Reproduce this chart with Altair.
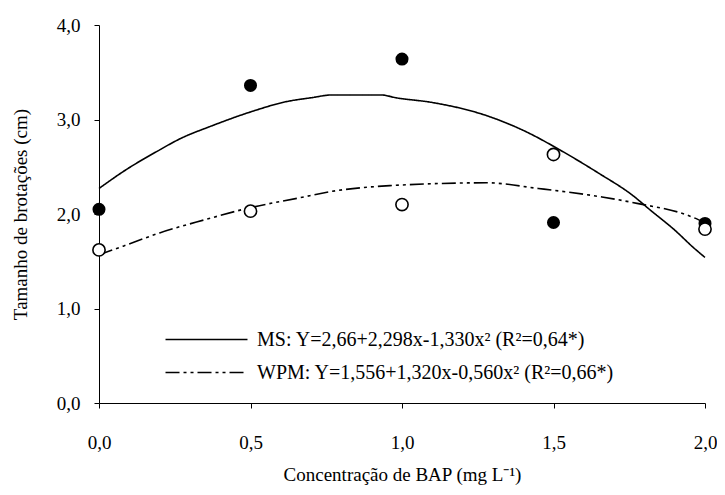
import altair as alt
import pandas as pd

# observed means
conc = [0.0, 0.5, 1.0, 1.5, 2.0]
ms_obs = [2.05, 3.36, 3.64, 1.91, 1.90]
wpm_obs = [1.62, 2.03, 2.10, 2.63, 1.84]

# fitted curves as drawn
ms_fit_x = [0.0, 0.09, 0.19, 0.27, 0.37, 0.5, 0.62, 0.70, 0.77, 0.93, 0.98, 1.10, 1.28, 1.41, 1.52, 1.65, 1.76, 1.82, 1.90, 1.96, 2.0]
ms_fit_y = [2.27, 2.47, 2.66, 2.80, 2.93, 3.08, 3.19, 3.23, 3.26, 3.26, 3.23, 3.18, 3.04, 2.87, 2.68, 2.43, 2.20, 2.04, 1.83, 1.65, 1.54]
wpm_fit_x = [0.0, 0.08, 0.2, 0.35, 0.49, 0.66, 0.77, 0.96, 1.28, 1.45, 1.66, 1.78, 1.94, 2.0]
wpm_fit_y = [1.57, 1.66, 1.80, 1.94, 2.06, 2.17, 2.24, 2.30, 2.33, 2.27, 2.18, 2.11, 1.99, 1.91]

ms_label = "MS: Y=2,66+2,298x-1,330x² (R²=0,64*)"
wpm_label = "WPM: Y=1,556+1,320x-0,560x² (R²=0,66*)"

x_ticks = [0.0, 0.5, 1.0, 1.5, 2.0]
y_ticks = [0.0, 1.0, 2.0, 3.0, 4.0]

FONT = "Liberation Serif"
FS = 19

obs = pd.DataFrame({"x": conc, "ms": ms_obs, "wpm": wpm_obs})
fit = pd.concat([
    pd.DataFrame({"x": ms_fit_x, "y": ms_fit_y, "s": ms_label}),
    pd.DataFrame({"x": wpm_fit_x, "y": wpm_fit_y, "s": wpm_label}),
])

xenc = alt.X("x:Q", scale=alt.Scale(domain=[0, 2], nice=False),
             axis=alt.Axis(values=x_ticks, title="Concentração de BAP (mg L⁻¹)",
                           labelExpr="replace(format(datum.value, '.1f'), '.', ',')",
                           labelFlush=False, labelPadding=25, titlePadding=13))

lines = alt.Chart(fit).mark_line(color="black", strokeWidth=1.6, interpolate="monotone").encode(
    x=xenc,
    y=alt.Y("y:Q", scale=alt.Scale(domain=[0, 4], nice=False),
            axis=alt.Axis(values=y_ticks, title="Tamanho de brotações (cm)",
                          labelExpr="replace(format(datum.value, '.1f'), '.', ',')",
                          labelFlush=False, labelPadding=14,
                          titleX=-79, titleY=189, titleAngle=270,
                          titleAlign="center", titleBaseline="middle")),
    strokeDash=alt.StrokeDash("s:N",
        scale=alt.Scale(domain=[ms_label, wpm_label], range=[[1, 0], [14, 4, 3, 4, 3, 4]]),
        legend=alt.Legend(title=None, orient="none", legendX=96, legendY=303,
                          symbolType="M-4,0H4", symbolSize=420, symbolStrokeWidth=1.6,
                          symbolStrokeColor="black", labelLimit=700, rowPadding=11,
                          labelFont=FONT, labelFontSize=20, labelColor="black", labelOffset=39)),
    detail="s:N",
)

filled = alt.Chart(obs).mark_point(shape="circle", filled=True, color="black", size=170, opacity=1).encode(
    x="x:Q", y="ms:Q")
opened = alt.Chart(obs).mark_point(shape="circle", filled=True, fill="white", stroke="black",
                                   strokeWidth=1.6, size=150, opacity=1).encode(
    x="x:Q", y="wpm:Q")

chart = alt.layer(lines, filled, opened).properties(
    width=606, height=378,
    autosize=alt.AutoSizeParams(type="none"),
    padding={"left": 91, "top": 17, "right": 12, "bottom": 84},
).configure_view(stroke=None).configure_axis(
    grid=False, domainColor="black", tickColor="black", tickSize=5,
    labelFont=FONT, labelFontSize=FS, labelColor="black",
    titleFont=FONT, titleFontSize=FS, titleFontWeight="normal", titleColor="black",
)

chart.save("out.html", embed_options={"renderer": "svg", "actions": False})
